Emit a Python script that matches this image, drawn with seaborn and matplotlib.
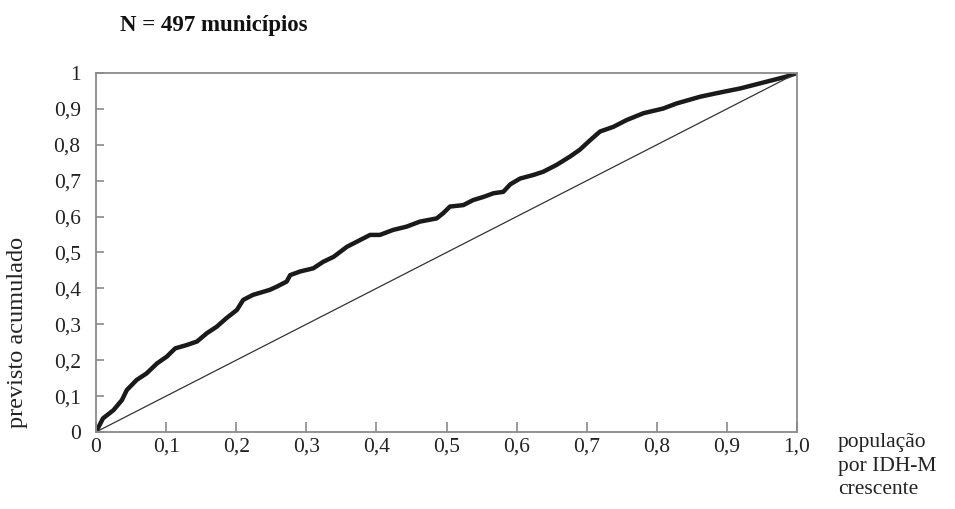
import matplotlib
matplotlib.use("Agg")
import matplotlib.pyplot as plt
import seaborn as sns
import pandas as pd

# Concentration curve: cumulative share of population ordered by IDH-M
pop_share = [0, .010, .025, .037, .044, .058, .072, .087, .101, .113, .129, .144, .158, .172,
             .186, .201, .210, .224, .248, .258, .272, .277, .291, .310, .324, .339, .358,
             .377, .391, .405, .424, .443, .462, .486, .495, .505, .524, .538, .553, .567,
             .581, .591, .605, .624, .638, .657, .676, .690, .705, .719, .738, .757, .781,
             .809, .828, .862, .886, .919, .957, .985, 1.0]
cum_share = [0, .038, .061, .089, .117, .145, .163, .191, .210, .233, .242, .252, .275, .293,
             .317, .340, .368, .382, .396, .405, .419, .437, .447, .456, .474, .488, .516,
             .535, .549, .549, .563, .572, .586, .595, .609, .628, .632, .646, .655, .665,
             .669, .690, .706, .716, .725, .744, .767, .786, .813, .837, .850, .869, .888,
             .901, .915, .934, .944, .957, .976, .990, 1.0]

diag = [0, 1]

x_ticks = [0, .1, .2, .3, .4, .5, .6, .7, .8, .9, 1.0]
x_tick_labels = ["0", "0,1", "0,2", "0,3", "0,4", "0,5", "0,6", "0,7", "0,8", "0,9", "1,0"]
y_ticks = [0, .1, .2, .3, .4, .5, .6, .7, .8, .9, 1.0]
y_tick_labels = ["0", "0,1", "0,2", "0,3", "0,4", "0,5", "0,6", "0,7", "0,8", "0,9", "1"]

title = "N = 497 municípios"
y_label = "previsto acumulado"
x_label = "população\npor IDH-M\ncrescente"

sns.set_style("ticks")
plt.rcParams["font.family"] = ["Liberation Serif", "DejaVu Serif"]

fig = plt.figure(figsize=(9.55, 5.09), dpi=100)
ax = fig.add_axes([96 / 955, 1 - 432 / 509, 701 / 955, 359 / 509])

curve = pd.DataFrame({"x": pop_share, "y": cum_share})
sns.lineplot(data=curve, x="x", y="y", sort=False, color="#1a1a1a", linewidth=3.2, ax=ax)
sns.lineplot(x=diag, y=diag, color="#333333", linewidth=0.9, ax=ax)

ax.set_xlim(0, 1)
ax.set_ylim(0, 1)
ax.set_xticks(x_ticks)
ax.set_xticklabels(x_tick_labels)
ax.set_yticks(y_ticks)
ax.set_yticklabels(y_tick_labels)
ax.set_xlabel("")
ax.set_ylabel("")
ax.set_axisbelow(False)
ax.tick_params(axis="both", which="major", bottom=True, left=True, top=False, right=False,
               direction="in", width=1.2, color="#8a8a8a",
               labelsize=15.5, labelcolor="#222222")
ax.tick_params(axis="x", length=7, pad=4)
ax.tick_params(axis="y", length=6, pad=11)
for side in ["left", "right", "top", "bottom"]:
    ax.spines[side].set_visible(True)
    ax.spines[side].set_color("#8a8a8a")
    ax.spines[side].set_linewidth(1.3)

fig.text(214 / 955, 1 - 25 / 509, title, ha="center", va="center",
         fontsize=16.5, fontweight="bold", color="#111111")
fig.text(18 / 955, 1 - 332 / 509, y_label, rotation=90, ha="center", va="center",
         fontsize=17.5, color="#222222")
fig.text(838 / 955, 1 - 466 / 509, x_label, ha="left", va="center",
         fontsize=15.5, color="#222222", linespacing=1.3)

fig.savefig("out.png", dpi=100)
